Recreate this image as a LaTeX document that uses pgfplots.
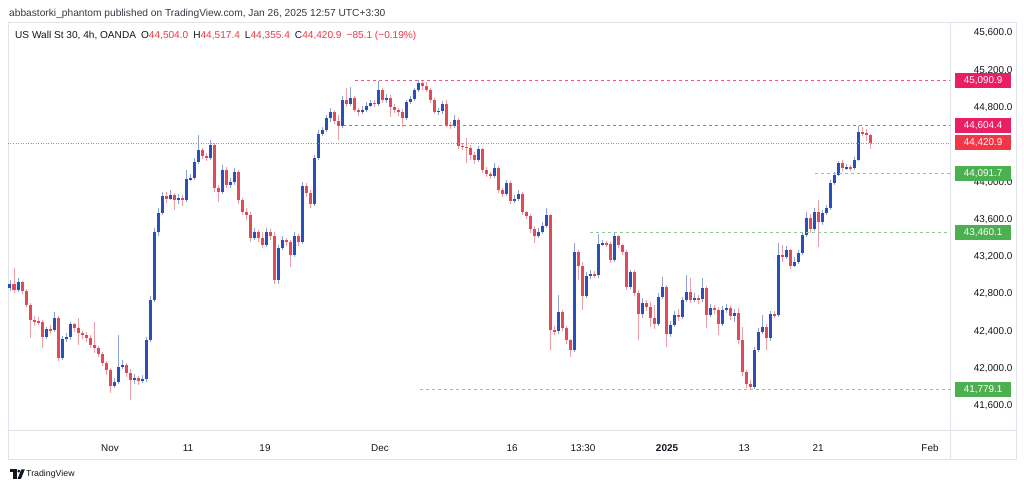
\documentclass[border=0pt]{standalone}
\usepackage{pgfplots}
\pgfplotsset{compat=1.18}
\usepackage{pgfplotstable}
\usepackage{fontspec}
\setmainfont{Liberation Sans}
\definecolor{upc}{HTML}{2A50B8}
\definecolor{dnc}{HTML}{E04B5A}
\definecolor{upw}{HTML}{8EA2D8}
\definecolor{dnw}{HTML}{EE9CA6}
\definecolor{pinkl}{HTML}{E91E63}
\definecolor{redl}{HTML}{F23645}
\definecolor{greenl}{HTML}{4CAF50}
\definecolor{txt}{HTML}{131722}
\definecolor{framec}{HTML}{E0E3EB}
\pgfplotstableread{
x o h l c
10 42866 42951 42833 42908
14 42908 43080 42812 42844
18 42844 42973 42823 42930
22 42930 42941 42801 42833
26 42833 42855 42662 42683
30 42683 42705 42329 42522
34 42522 42565 42458 42512
38 42512 42554 42469 42501
42 42501 42522 42222 42340
46 42340 42447 42319 42426
50 42426 42469 42372 42415
54 42415 42608 42394 42544
58 42544 42565 42083 42115
62 42115 42351 42093 42319
66 42319 42383 42286 42340
70 42340 42501 42308 42479
74 42479 42490 42394 42436
78 42436 42544 42254 42383
82 42383 42404 42319 42361
86 42361 42394 42286 42329
90 42329 42361 42222 42254
94 42254 42501 42168 42222
98 42222 42244 42126 42158
102 42158 42179 42029 42061
106 42061 42083 41933 41986
110 41986 42008 41740 41815
114 41815 41900 41793 41858
118 41858 42361 41836 42018
122 42018 42093 41997 42040
126 42040 42061 41911 41954
130 41954 41997 41665 41879
134 41879 41943 41836 41900
138 41900 41922 41825 41868
142 41868 41933 41847 41890
146 41890 42340 41858 42308
150 42308 42780 42286 42737
154 42737 43509 42715 43466
158 43466 43723 43423 43670
162 43670 43895 43648 43852
166 43852 43895 43777 43820
170 43820 43916 43809 43863
174 43863 43884 43702 43809
178 43809 43873 43766 43831
182 43831 43863 43745 43809
186 43809 44131 43788 44034
190 44034 44088 44013 44045
194 44045 44260 44024 44217
198 44217 44506 44195 44345
202 44345 44367 44249 44281
206 44281 44313 44227 44260
210 44260 44453 44238 44399
214 44399 44420 43895 43938
218 43938 43970 43788 43895
222 43895 44184 43873 44131
226 44131 44163 43938 43970
230 43970 44045 43938 44002
234 44002 44152 43970 44109
238 44109 44131 43766 43809
242 43809 43831 43648 43680
246 43680 43723 43595 43648
250 43648 43680 43359 43402
254 43402 43509 43380 43466
258 43466 43487 43359 43402
262 43402 43466 43294 43327
266 43327 43509 43305 43466
270 43466 43498 43380 43423
274 43423 43466 42908 42951
278 42951 43327 42908 43294
282 43294 43423 43273 43380
286 43380 43402 43316 43359
290 43359 43380 43091 43219
294 43219 43466 43198 43423
298 43423 43445 43316 43359
302 43359 44002 43337 43959
306 43959 43991 43841 43884
310 43884 43916 43723 43766
314 43766 44292 43745 44260
318 44260 44560 44238 44517
322 44517 44592 44496 44560
326 44560 44721 44538 44689
330 44689 44796 44646 44753
334 44753 44774 44624 44656
338 44656 44721 44453 44603
342 44603 44925 44581 44882
346 44882 45010 44807 44839
350 44839 45021 44817 44903
354 44903 44925 44753 44774
358 44774 44796 44710 44753
362 44753 44817 44731 44774
366 44774 44860 44753 44817
370 44817 44882 44807 44850
374 44850 44882 44807 44839
378 44839 45085 44817 44989
382 44989 45010 44850 44882
386 44882 44946 44850 44903
390 44903 44935 44699 44807
394 44807 44839 44742 44774
398 44774 44796 44710 44753
402 44753 44785 44592 44689
406 44689 44882 44667 44860
410 44860 44925 44839 44892
414 44892 45010 44871 44989
418 44989 45090.9 44967 45064
422 45064 45085 44989 45032
426 45032 45075 44967 44989
430 44989 45010 44850 44882
434 44882 44903 44731 44753
438 44753 44796 44721 44764
442 44764 44871 44731 44839
446 44839 44882 44592 44614
450 44614 44646 44571 44603
454 44603 44721 44581 44667
458 44667 44689 44356 44388
462 44388 44420 44345 44378
466 44378 44474 44206 44367
470 44367 44399 44238 44292
474 44292 44324 44195 44238
478 44238 44388 44217 44356
482 44356 44367 44099 44131
486 44131 44163 44056 44088
490 44088 44109 44034 44066
494 44066 44206 44045 44152
498 44152 44174 43884 43916
502 43916 43938 43841 43873
506 43873 44024 43852 43991
510 43991 44013 43766 43798
514 43798 43863 43777 43820
518 43820 43916 43798 43873
522 43873 43895 43648 43680
526 43680 43691 43605 43638
530 43638 43659 43455 43498
534 43498 43530 43348 43423
538 43423 43509 43402 43466
542 43466 43573 43445 43530
546 43530 43723 43509 43648
550 43648 43659 42201 42415
554 42415 42458 42361 42404
558 42404 42790 42372 42608
562 42608 42630 42404 42436
566 42436 42458 42265 42308
570 42308 42319 42126 42201
574 42201 43348 42179 43252
578 43252 43273 42951 43101
582 43101 43144 42630 42780
586 42780 43037 42758 42994
590 42994 43059 42962 43016
594 43016 43048 42973 43005
598 43005 43440 42973 43337
602 43337 43380 43316 43348
606 43348 43370 43305 43337
610 43337 43359 43134 43166
614 43166 43460.1 43144 43423
618 43423 43434 43294 43327
622 43327 43337 43219 43252
626 43252 43273 42844 42876
630 42876 43059 42855 43037
634 43037 43059 42780 42812
638 42812 42844 42308 42587
642 42587 42758 42544 42705
646 42705 42737 42619 42662
650 42662 42715 42447 42544
654 42544 42683 42426 42479
658 42479 42812 42458 42769
662 42769 42984 42748 42876
666 42876 42898 42233 42372
670 42372 42512 42340 42469
674 42469 42619 42447 42576
678 42576 42640 42512 42554
682 42554 42769 42533 42737
686 42737 43005 42715 42823
690 42823 42973 42705 42737
694 42737 42812 42715 42758
698 42758 42790 42694 42748
702 42748 42973 42715 42866
706 42866 42887 42436 42576
710 42576 42694 42554 42651
714 42651 42683 42587 42630
718 42630 42662 42361 42479
722 42479 42672 42458 42630
726 42630 42694 42597 42651
730 42651 42672 42522 42565
734 42565 42640 42501 42597
738 42597 42651 42265 42308
742 42308 42447 41922 41965
746 41965 41986 41793 41836
750 41836 41879 41779.1 41804
754 41804 42233 41783 42201
758 42201 42436 42179 42394
762 42394 42576 42372 42447
766 42447 42479 42201 42329
770 42329 42619 42297 42587
774 42587 42619 42544 42576
778 42576 43348 42554 43219
782 43219 43327 43144 43198
786 43198 43316 43177 43273
790 43273 43284 43069 43101
794 43101 43198 43091 43144
798 43144 43273 43123 43241
802 43241 43466 43219 43434
806 43434 43680 43412 43616
810 43616 43659 43455 43498
814 43498 43723 43477 43680
818 43680 43809 43305 43573
822 43573 43702 43541 43670
826 43670 43756 43648 43723
830 43723 44024 43702 43991
834 43991 44109 43970 44077
838 44077 44227 44066 44206
842 44206 44238 44120 44152
846 44152 44195 44131 44163
850 44163 44184 44120 44152
854 44152 44270 44131 44238
858 44238 44604.4 44227 44538
862 44538 44592 44496 44528
866 44528 44571 44442 44504
870 44504.0 44517.4 44355.4 44420.9
}\candles
\begin{document}
\begin{tikzpicture}[x=1pt,y=1pt,font=\fontsize{9.9}{11}\selectfont]
\useasboundingbox (0,0) rectangle (1024,490);
\fill[white] (0,0) rectangle (1024,490);
\draw[framec, line width=0.8pt] (8,31) rectangle (1016,468);
\draw[framec, line width=0.6pt] (950,31) -- (950,468);
\draw[framec, line width=0.6pt] (8,60) -- (1016,60);
\node[anchor=west, text=txt!85, inner sep=0pt, font=\fontsize{10.2}{12}\selectfont] at (9,476.5) {abbastorki\_phantom published on TradingView.com, Jan 26, 2025 12:57 UTC+3:30};
\node[anchor=west, text=txt, inner sep=0pt, font=\fontsize{10.1}{12}\selectfont] at (15,454) {US Wall St 30, 4h, OANDA\enspace O\textcolor{redl}{44,504.0}\enspace H\textcolor{redl}{44,517.4}\enspace L\textcolor{redl}{44,355.4}\enspace C\textcolor{redl}{44,420.9}\enspace\textcolor{redl}{−85.1 (−0.19\%)}};
% TradingView logo
\fill[txt] (10,17.8) rectangle (16.6,20.6);
\fill[txt] (13.4,11.2) rectangle (16.6,20.6);
\fill[txt] (18.9,18.9) circle (1.7);
\fill[txt] (17.6,11.2) -- (21.0,11.2) -- (24.8,20.6) -- (21.4,20.6) -- cycle;
\node[anchor=west, text=txt, inner sep=0pt, font=\fontsize{8.8}{10}\selectfont] at (26,15.8) {TradingView};
\begin{axis}[
  at={(8pt,60pt)}, anchor=south west,
  scale only axis, width=942pt, height=408pt,
  xmin=8, xmax=950, ymin=41343, ymax=45718,
  axis line style={draw=none}, major tick length=0pt,
  clip=false, scaled y ticks=false,
  xtick={110,188,265,380,512,583,667,744,818,930},
  xticklabels={Nov,11,19,Dec,16,13:30,\textbf{2025},13,21,Feb},
  xticklabel style={text=txt, yshift=-11pt},
  ytick={41600,42000,42400,42800,43200,43600,44000,44800,45200,45600},
  yticklabel pos=right,
  yticklabel style={text=txt, anchor=east, xshift=66pt},
  /pgf/number format/.cd, fixed, fixed zerofill, precision=1, 1000 sep={,}, assume math mode=true,
]
% wicks
\addplot[draw=none, mark=none, error bars/.cd, y dir=both, y explicit, error mark=none,
  error bar style={line width=0.85pt, draw=upw}]
  table[x=x, y expr={\thisrow{c}>=\thisrow{o} ? (\thisrow{h}+\thisrow{l})/2 : nan}, y error expr={(\thisrow{h}-\thisrow{l})/2}] {\candles};
\addplot[draw=none, mark=none, error bars/.cd, y dir=both, y explicit, error mark=none,
  error bar style={line width=0.85pt, draw=dnw}]
  table[x=x, y expr={\thisrow{c}<\thisrow{o} ? (\thisrow{h}+\thisrow{l})/2 : nan}, y error expr={(\thisrow{h}-\thisrow{l})/2}] {\candles};
% bodies
\addplot[draw=none, mark=none, error bars/.cd, y dir=both, y explicit, error mark=none,
  error bar style={line width=3.0pt, draw=upc}]
  table[x=x, y expr={\thisrow{c}>=\thisrow{o} ? (\thisrow{o}+\thisrow{c})/2 : nan}, y error expr={max(abs(\thisrow{c}-\thisrow{o})/2,7)}] {\candles};
\addplot[draw=none, mark=none, error bars/.cd, y dir=both, y explicit, error mark=none,
  error bar style={line width=3.0pt, draw=dnc}]
  table[x=x, y expr={\thisrow{c}<\thisrow{o} ? (\thisrow{o}+\thisrow{c})/2 : nan}, y error expr={max(abs(\thisrow{c}-\thisrow{o})/2,7)}] {\candles};
% level lines
\draw[pinkl!75, dash pattern=on 3pt off 3pt, line width=0.7pt] (axis cs:355,45090.9) -- (axis cs:950,45090.9);
\draw[pinkl!75, dash pattern=on 3pt off 3pt, line width=0.7pt] (axis cs:343,44604.4) -- (axis cs:950,44604.4);
\draw[redl!75, dash pattern=on 1pt off 1.5pt, line width=0.6pt] (axis cs:8,44420.9) -- (axis cs:950,44420.9);
\draw[greenl!65, dash pattern=on 3pt off 3pt, line width=0.7pt] (axis cs:815,44091.7) -- (axis cs:950,44091.7);
\draw[greenl!65, dash pattern=on 3pt off 3pt, line width=0.7pt] (axis cs:590,43460.1) -- (axis cs:950,43460.1);
\draw[greenl!65, dash pattern=on 3pt off 3pt, line width=0.7pt] (axis cs:420,41779.1) -- (axis cs:950,41779.1);
\coordinate (p1) at (axis cs:950,45090.9);
\coordinate (p2) at (axis cs:950,44604.4);
\coordinate (p3) at (axis cs:950,44420.9);
\coordinate (p4) at (axis cs:950,44091.7);
\coordinate (p5) at (axis cs:950,43460.1);
\coordinate (p6) at (axis cs:950,41779.1);
\end{axis}
\tikzset{lbl/.style={anchor=west, xshift=5pt, text=white, minimum width=56pt, minimum height=15pt, inner sep=1pt}}
\node[lbl, fill=pinkl] at (p1) {45,090.9};
\node[lbl, fill=pinkl] at (p2) {44,604.4};
\node[lbl, fill=redl] at (p3) {44,420.9};
\node[lbl, fill=greenl] at (p4) {44,091.7};
\node[lbl, fill=greenl] at (p5) {43,460.1};
\node[lbl, fill=greenl] at (p6) {41,779.1};
\end{tikzpicture}
\end{document}
